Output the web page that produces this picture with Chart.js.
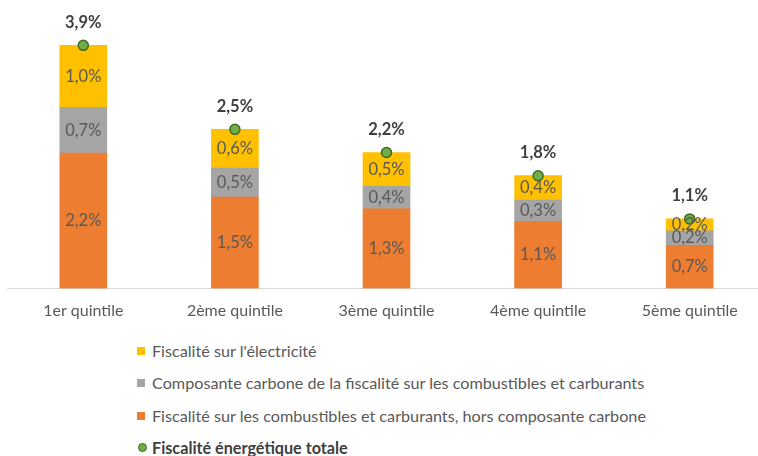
<!DOCTYPE html>
<html>
<head>
<meta charset="utf-8">
<script src="https://cdn.jsdelivr.net/npm/chart.js@4.4.1/dist/chart.umd.min.js"></script>
<style>
  html, body { margin: 0; padding: 0; background: #fff; width: 758px; height: 456px; overflow: hidden; }
  #wrap { position: absolute; left: 0; top: 0; width: 772px; height: 330px; }
  #legend { position: absolute; left: 137px; top: 335px; font-family: Lato, "Liberation Sans", sans-serif; font-size: 16.2px; color: #595959; }
  .row { position: absolute; left: 0; height: 20px; line-height: 20px; white-space: nowrap; }
  .sq { position: absolute; left: 0; top: 6px; width: 8px; height: 8px; }
  .ci { position: absolute; left: 0.5px; top: 5.5px; width: 7px; height: 7px; border-radius: 50%; background: #70AD47; border: 1.5px solid #3f6b27; }
  .tx { position: absolute; left: 15px; top: 0; }
</style>
</head>
<body>
<div id="wrap"><canvas id="c" width="772" height="330"></canvas></div>
<div id="legend"></div>
<script>
const categories = ["1er quintile", "2ème quintile", "3ème quintile", "4ème quintile", "5ème quintile"];
const horsCarbone = [2.16, 1.46, 1.27, 1.07, 0.69];
const composanteCarbone = [0.73, 0.46, 0.36, 0.34, 0.23];
const electricite = [0.99, 0.62, 0.54, 0.39, 0.19];
const totale = [3.88, 2.54, 2.17, 1.80, 1.11];

const seriesNames = {
  elec: "Fiscalité sur l'électricité",
  carbone: "Composante carbone de la fiscalité sur les combustibles et carburants",
  hors: "Fiscalité sur les combustibles et carburants, hors composante carbone",
  total: "Fiscalité énergétique totale"
};
const colors = { elec: "#FFC000", carbone: "#A5A5A5", hors: "#ED7D31", total: "#70AD47" };

const fmt = v => v.toFixed(1).replace('.', ',') + '%';

const labelPlugin = {
  id: 'valueLabels',
  afterDatasetsDraw(chart) {
    const ctx = chart.ctx;
    ctx.save();
    ctx.textAlign = 'center';
    ctx.textBaseline = 'middle';
    chart.data.datasets.forEach((ds, di) => {
      const meta = chart.getDatasetMeta(di);
      meta.data.forEach((el, i) => {
        const v = ds.data[i];
        if (ds.type === 'line') {
          ctx.font = 'bold 16.5px Lato, "Liberation Sans", sans-serif';
          ctx.fillStyle = '#404040';
          ctx.fillText(fmt(v), el.x, el.y - 23);
        } else {
          ctx.font = '16.5px Lato, "Liberation Sans", sans-serif';
          ctx.fillStyle = '#595959';
          ctx.fillText(fmt(v), el.x, (el.y + el.base) / 2);
        }
      });
    });
    ctx.restore();
  }
};

new Chart(document.getElementById('c'), {
  type: 'bar',
  data: {
    labels: categories,
    datasets: [
      { label: seriesNames.hors, data: horsCarbone, backgroundColor: colors.hors, barThickness: 47, order: 2 },
      { label: seriesNames.carbone, data: composanteCarbone, backgroundColor: colors.carbone, barThickness: 47, order: 2 },
      { label: seriesNames.elec, data: electricite, backgroundColor: colors.elec, barThickness: 47, order: 2 },
      { type: 'line', label: seriesNames.total, data: totale, stack: 'total', showLine: false,
        pointRadius: 5, pointBackgroundColor: colors.total, pointBorderColor: '#3f6b27', pointBorderWidth: 1.5, order: 0 }
    ]
  },
  options: {
    responsive: false,
    animation: false,
    layout: { padding: { left: 7.5, right: 1, top: 0, bottom: 0 } },
    plugins: { legend: { display: false }, tooltip: { enabled: false } },
    scales: {
      x: {
        stacked: true,
        grid: { display: false, drawTicks: false },
        border: { display: true, color: '#D9D9D9', width: 1 },
        ticks: { color: '#595959', font: { family: 'Lato, "Liberation Sans", sans-serif', size: 16 }, padding: 13 },
        afterFit(scale) { scale.height = 41.5; }
      },
      y: {
        stacked: true,
        display: false,
        min: 0,
        max: 4.5
      }
    }
  },
  plugins: [labelPlugin]
});

const legendItems = [
  { name: seriesNames.elec, color: colors.elec, kind: 'sq' },
  { name: seriesNames.carbone, color: colors.carbone, kind: 'sq' },
  { name: seriesNames.hors, color: colors.hors, kind: 'sq' },
  { name: seriesNames.total, color: colors.total, kind: 'ci' }
];
const lg = document.getElementById('legend');
legendItems.forEach((it, i) => {
  const row = document.createElement('div');
  row.className = 'row';
  row.style.top = (6 + i * 32.3) + 'px';
  const m = document.createElement('span');
  m.className = it.kind;
  if (it.kind === 'sq') m.style.background = it.color;
  const t = document.createElement('span');
  t.className = 'tx';
  t.textContent = it.name;
  if (it.kind === 'ci') { t.style.fontWeight = 'bold'; t.style.color = '#404040'; }
  row.appendChild(m);
  row.appendChild(t);
  lg.appendChild(row);
});
</script>
</body>
</html>
